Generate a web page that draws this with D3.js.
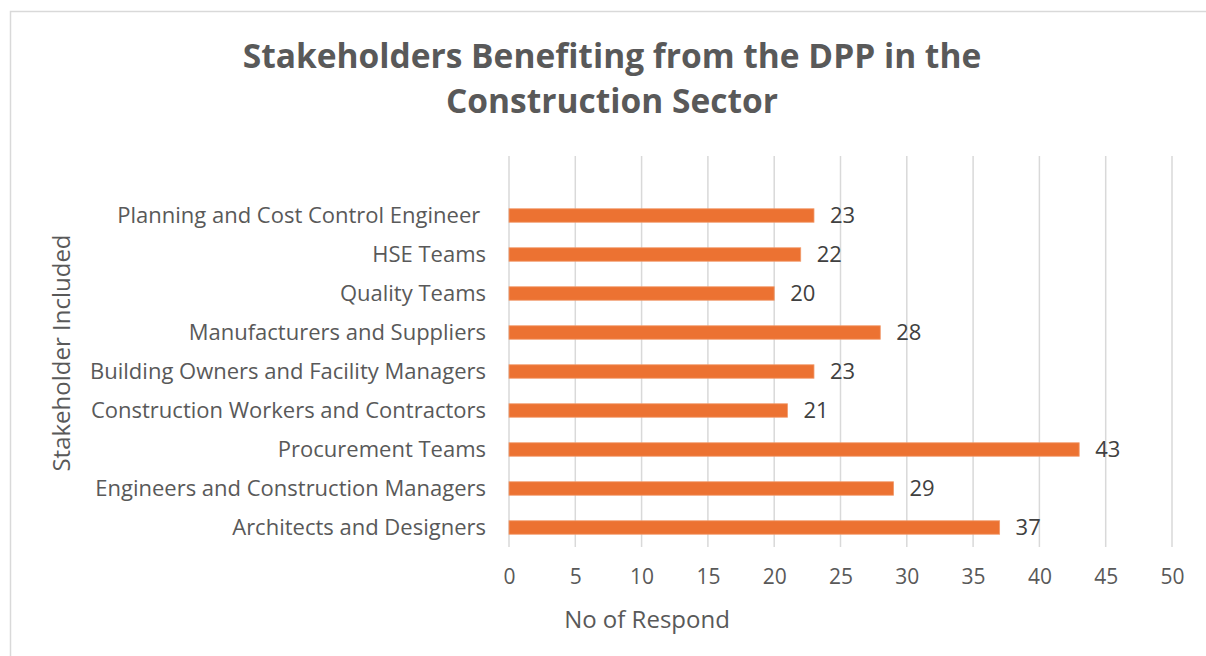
<!DOCTYPE html>
<html>
<head>
<meta charset="utf-8">
<script src="https://cdn.jsdelivr.net/npm/d3@7"></script>
<style>
  html, body { margin: 0; padding: 0; background: #fff; }
  svg { display: block; }
</style>
</head>
<body>
<svg id="chart" width="1206" height="656"></svg>
<script>
// Stakeholder categories, listed bottom to top as they appear on the axis
const categories = [
  "Architects and Designers",
  "Engineers and Construction Managers",
  "Procurement Teams",
  "Construction Workers and Contractors",
  "Building Owners and Facility Managers",
  "Manufacturers and Suppliers",
  "Quality Teams",
  "HSE Teams",
  "Planning and Cost Control Engineer "
];
// Number of respondents per stakeholder
const responses = [37, 29, 43, 21, 23, 28, 20, 22, 23];
// Value axis ticks
const xTicks = [0, 5, 10, 15, 20, 25, 30, 35, 40, 45, 50];

const titleLines = ["Stakeholders Benefiting from the DPP in the", "Construction Sector"];
const xAxisTitle = "No of Respond";
const yAxisTitle = "Stakeholder Included";

const svg = d3.select("#chart");
const labelFont = "'Open Sans', 'Noto Sans', sans-serif";

// outer frame
svg.append("rect")
  .attr("x", 10.5).attr("y", 11.5)
  .attr("width", 1300).attr("height", 800)
  .attr("fill", "#fff")
  .attr("stroke", "#d9d9d9").attr("stroke-width", 1.5);

const plot = { left: 509, right: 1172, top: 156, bottom: 547 };
const bandStep = 39;

const x = d3.scaleLinear().domain([0, 50]).range([plot.left, plot.right]);
const y = d3.scaleBand()
  .domain(categories)
  .range([plot.bottom, plot.bottom - bandStep * categories.length])
  .paddingInner(0.655).paddingOuter(0.3275);

// vertical gridlines
svg.append("g")
  .selectAll("line")
  .data(xTicks)
  .join("line")
  .attr("x1", d => x(d)).attr("x2", d => x(d))
  .attr("y1", plot.top).attr("y2", plot.bottom)
  .attr("stroke", "#d9d9d9").attr("stroke-width", 1.5);

// value axis (labels only)
const xAxis = svg.append("g")
  .attr("transform", `translate(0,${plot.bottom})`)
  .call(d3.axisBottom(x).tickValues(xTicks).tickSize(0).tickPadding(22));
xAxis.select(".domain").remove();
xAxis.selectAll("text")
  .attr("font-family", labelFont).attr("font-size", 21).attr("fill", "#595959");

// category axis (labels only)
const yAxis = svg.append("g")
  .attr("transform", `translate(${plot.left},0)`)
  .call(d3.axisLeft(y).tickSize(0).tickPadding(23));
yAxis.select(".domain").remove();
yAxis.selectAll("text")
  .attr("font-family", labelFont).attr("font-size", 22).attr("fill", "#595959")
  .style("white-space", "pre");

// bars
svg.append("g")
  .selectAll("rect")
  .data(categories)
  .join("rect")
  .attr("x", x(0))
  .attr("y", d => y(d))
  .attr("width", (d, i) => x(responses[i]) - x(0))
  .attr("height", y.bandwidth())
  .attr("fill", "#ec7232")
  .attr("stroke", "#f19a6b").attr("stroke-width", 0.8);

// value labels
svg.append("g")
  .selectAll("text")
  .data(categories)
  .join("text")
  .attr("x", (d, i) => x(responses[i]) + 16)
  .attr("y", d => y(d) + y.bandwidth() / 2)
  .attr("dy", "0.35em")
  .attr("font-family", labelFont).attr("font-size", 22).attr("fill", "#404040")
  .text((d, i) => responses[i]);

// title
svg.append("g")
  .selectAll("text")
  .data(titleLines)
  .join("text")
  .attr("x", 612)
  .attr("y", (d, i) => 67.5 + i * 45.5)
  .attr("text-anchor", "middle")
  .attr("font-family", labelFont)
  .attr("font-weight", "bold").attr("font-size", 33.5).attr("fill", "#595959")
  .text(d => d);

// axis titles
svg.append("text")
  .attr("x", 647).attr("y", 628)
  .attr("text-anchor", "middle")
  .attr("font-family", labelFont).attr("font-size", 24).attr("fill", "#595959")
  .text(xAxisTitle);

svg.append("text")
  .attr("transform", "translate(70,353) rotate(-90)")
  .attr("text-anchor", "middle")
  .attr("font-family", labelFont).attr("font-size", 24).attr("fill", "#595959")
  .text(yAxisTitle);
</script>
</body>
</html>
